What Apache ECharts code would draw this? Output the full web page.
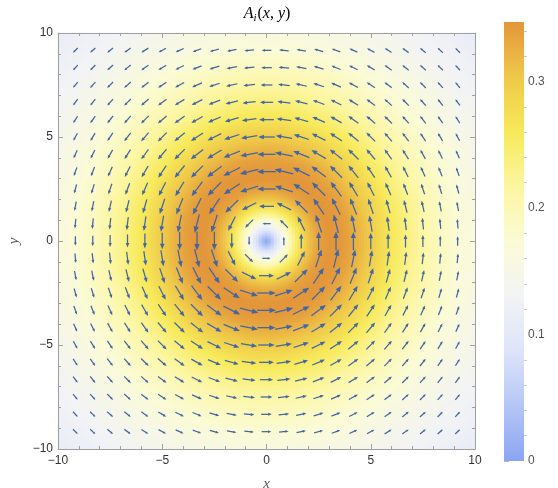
<!DOCTYPE html>
<html><head><meta charset="utf-8">
<script src="https://cdn.jsdelivr.net/npm/echarts@6/dist/echarts.min.js"></script>
<style>html,body{margin:0;padding:0;background:#fff}#c{width:558px;height:488px}</style>
</head><body><div id="c"></div>
<script>
// Radial profile of |A| (background colour / arrow length vs radius)
const profileR = [0, 0.5, 1, 1.5, 2, 2.5, 3, 3.5, 4, 5, 6, 7, 8, 9, 10, 12, 14.2];
const profileA = [0, 0.09, 0.18, 0.255, 0.305, 0.337, 0.347, 0.345, 0.335, 0.30, 0.262, 0.228, 0.20, 0.178, 0.16, 0.132, 0.11];
// Arrow sample positions (both x and y)
const vectorPoints = [-9.1667,-8.3333,-7.5,-6.6667,-5.8333,-5,-4.1667,-3.3333,-2.5,-1.6667,-0.8333,0,
  0.8333,1.6667,2.5,3.3333,4.1667,5,5.8333,6.6667,7.5,8.3333,9.1667];
const xTicks = [-10, -5, 0, 5, 10];
const yTicks = [-10, -5, 0, 5, 10];
const barTicks = [0, 0.1, 0.2, 0.3];
const barMinorTicks = [0.02,0.04,0.06,0.08,0.12,0.14,0.16,0.18,0.22,0.24,0.26,0.28,0.32,0.34];
const barMax = 0.347;
const colorStops = ['#8aa5f3','#b5c6f6','#dde4fa','#f2f3f5','#fbfbd6','#fcf6a0','#f7e95a','#efc849','#e3963b'];

const ARROW_COLOR = '#4266a3';
const ARROW_SCALE = 2.65; // data units of arrow length per unit magnitude

function profile(r){
  for (let k = 1; k < profileR.length; k++) {
    if (r <= profileR[k]) {
      const t = (r - profileR[k-1]) / (profileR[k] - profileR[k-1]);
      return profileA[k-1] + t * (profileA[k] - profileA[k-1]);
    }
  }
  return profileA[profileA.length-1];
}

// arrow data
const arrowData = [];
vectorPoints.forEach(x => vectorPoints.forEach(y => {
  const r = Math.hypot(x, y);
  if (r < 1e-6) return;
  arrowData.push([x, y, profile(r), -y / r, x / r]);
}));

// background density
const NX = 139, NY = 208;
const heatX = [], heatY = [], heatData = [];
for (let i = 0; i < NX; i++) heatX.push(i);
for (let j = 0; j < NY; j++) heatY.push(j);
for (let i = 0; i < NX; i++) {
  const x = -10 + (i + 0.5) * 20 / NX;
  for (let j = 0; j < NY; j++) {
    const y = -10 + (j + 0.5) * 20 / NY;
    heatData.push([i, j, profile(Math.hypot(x, y))]);
  }
}

const fmt = v => String(v).replace('-', '\u2212');
const frameColor = '#a0a0a0';
const labelStyle = {color: '#333', fontSize: 12, fontFamily: 'Liberation Sans, Arial, sans-serif'};

function mainAxis(isX, pos, showLabel, ticks) {
  return {
    gridIndex: 0, type: 'value', min: -10, max: 10, interval: 5, position: pos, z: 10,
    axisLine: {show: true, onZero: false, lineStyle: {color: frameColor, width: 1}},
    axisTick: {show: true, inside: true, length: 5, lineStyle: {color: frameColor}},
    minorTick: {show: true, splitNumber: 5, length: 3, lineStyle: {color: frameColor}},
    splitLine: {show: false}, minorSplitLine: {show: false},
    axisLabel: Object.assign({show: showLabel, margin: isX ? 6 : 5, formatter: fmt, customValues: ticks}, labelStyle)
  };
}

const chart = echarts.init(document.getElementById('c'), null, {renderer: 'canvas'});
const xMain = mainAxis(true, 'bottom', true, xTicks);
xMain.name = 'x'; xMain.nameLocation = 'middle'; xMain.nameGap = 28;
xMain.nameTextStyle = {fontFamily: 'Liberation Serif, Times New Roman, serif', fontStyle: 'italic', fontSize: 15, color: '#555'};
const yMain = mainAxis(false, 'left', true, yTicks);
yMain.name = 'y'; yMain.nameLocation = 'middle'; yMain.nameGap = 36; yMain.nameRotate = 90;
yMain.nameTextStyle = {fontFamily: 'Liberation Serif, Times New Roman, serif', fontStyle: 'italic', fontSize: 15, color: '#555'};

const option = {
  animation: false,
  backgroundColor: '#fff',
  grid: [
    {left: 58, top: 33, width: 417, height: 416, outerBoundsMode: 'none', containLabel: false},
    {left: 58, top: 33, width: 417, height: 416, outerBoundsMode: 'none', containLabel: false},
    {left: 504, top: 22, width: 20, height: 439, outerBoundsMode: 'none', containLabel: false}
  ],
  xAxis: [
    xMain,
    mainAxis(true, 'top', false, xTicks),
    {gridIndex: 1, type: 'category', data: heatX, show: false},
    {gridIndex: 2, type: 'value', min: 0, max: 1, show: false}
  ],
  yAxis: [
    yMain,
    mainAxis(false, 'right', false, yTicks),
    {gridIndex: 1, type: 'category', data: heatY, show: false},
    {gridIndex: 2, type: 'value', min: 0, max: barMax, position: 'right',
      axisLine: {show: false}, splitLine: {show: false},
      axisTick: {show: true, length: 5, customValues: barTicks, lineStyle: {color: '#bbb'}},
      axisLabel: Object.assign({show: true, margin: 4, customValues: barTicks, formatter: v => String(v)}, labelStyle, {color: '#555'})},
    {gridIndex: 2, type: 'value', min: 0, max: barMax, position: 'right',
      axisLine: {show: false}, splitLine: {show: false},
      axisTick: {show: true, length: 3, customValues: barMinorTicks, lineStyle: {color: '#ccc'}},
      axisLabel: {show: false}}
  ],
  visualMap: [{type: 'continuous', show: false, seriesIndex: 0, dimension: 2, min: 0, max: barMax,
    inRange: {color: colorStops}}],
  graphic: [{
    type: 'text', x: 267, y: 14, z: 20,
    style: {
      text: '{a|A}{s|i}{p|(}{a|x}{p|, }{a|y}{p|)}',
      align: 'center', verticalAlign: 'middle',
      rich: {
        a: {fontFamily: 'Liberation Serif, serif', fontStyle: 'italic', fontSize: 16, color: '#333'},
        p: {fontFamily: 'Liberation Serif, serif', fontSize: 16, color: '#333'},
        s: {fontFamily: 'Liberation Serif, serif', fontStyle: 'italic', fontSize: 11, color: '#333', padding: [8, 1, 0, 0]}
      }
    }
  }],
  series: [
    {type: 'heatmap', xAxisIndex: 2, yAxisIndex: 2, data: heatData, progressive: 0, z: 1,
      emphasis: {disabled: true}, itemStyle: {borderWidth: 0}},
    {type: 'custom', xAxisIndex: 0, yAxisIndex: 0, data: arrowData, z: 5, silent: true,
      renderItem(params, api) {
        const x = api.value(0), y = api.value(1), m = api.value(2), ux = api.value(3), uy = api.value(4);
        const half = m * ARROW_SCALE / 2;
        const p0 = api.coord([x - ux * half, y - uy * half]);
        const p1 = api.coord([x + ux * half, y + uy * half]);
        const dx = p1[0] - p0[0], dy = p1[1] - p0[1];
        const L = Math.hypot(dx, dy);
        const ex = dx / L, ey = dy / L;
        const hl = 0.34 * L, hw = 0.14 * L;
        const bx = p1[0] - ex * hl, by = p1[1] - ey * hl;
        return {type: 'group', children: [
          {type: 'line', shape: {x1: p0[0], y1: p0[1], x2: bx + ex * 1, y2: by + ey * 1},
            style: {stroke: ARROW_COLOR, lineWidth: 1.25}},
          {type: 'polygon', shape: {points: [[p1[0], p1[1]], [bx - ey * hw, by + ex * hw], [bx + ey * hw, by - ex * hw]]},
            style: {fill: ARROW_COLOR}}
        ]};
      }},
    {type: 'custom', xAxisIndex: 3, yAxisIndex: 3, data: [[0, 0]], silent: true,
      renderItem(params, api) {
        const a = api.coord([0, 0]), b = api.coord([1, barMax]);
        const stops = colorStops.map((c, k) => ({offset: k / (colorStops.length - 1), color: c}));
        return {type: 'rect', shape: {x: a[0], y: b[1], width: b[0] - a[0], height: a[1] - b[1]},
          style: {fill: new echarts.graphic.LinearGradient(0, 1, 0, 0, stops)}};
      }}
  ]
};
chart.setOption(option);
</script></body></html>
